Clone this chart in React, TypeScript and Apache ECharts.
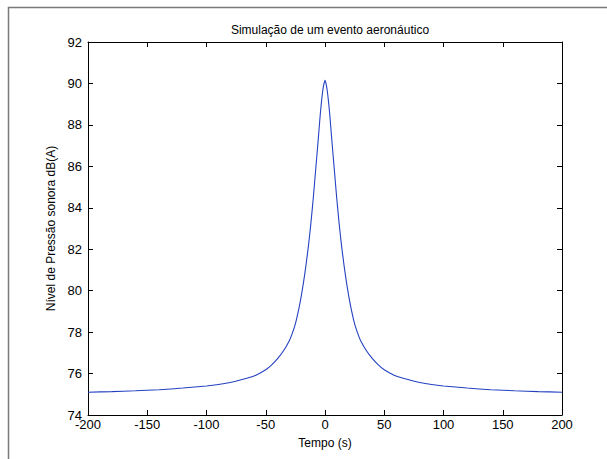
import React, { useEffect, useRef } from "react";
import * as echarts from "echarts";

const titleText = "Simulação de um evento aeronáutico";
const xName = "Tempo (s)";
const yName = "Nível de Pressão sonora dB(A)";

const timeSec = [
  -200, -180, -160, -140, -120, -100, -90, -80, -70, -60, -55, -50, -45, -40, -35, -30, -28, -25, -22, -20, -18, -16,
  -14, -12, -10, -8, -6, -5, -4, -3, -2, -1, 0, 1, 2, 3, 4, 5, 6, 8, 10, 12, 14, 16, 18, 20, 22, 25, 28, 30, 35, 40,
  45, 50, 55, 60, 70, 80, 90, 100, 120, 140, 160, 180, 200,
];
const levelDb = [
  75.1, 75.13, 75.17, 75.22, 75.3, 75.4, 75.47, 75.57, 75.71, 75.88, 76.02, 76.18, 76.42, 76.72, 77.1, 77.6, 77.88,
  78.4, 79.15, 79.75, 80.45, 81.25, 82.15, 83.2, 84.4, 85.75, 87.1, 87.8, 88.5, 89.1, 89.6, 89.95, 90.15, 89.95, 89.6,
  89.1, 88.5, 87.8, 87.1, 85.75, 84.4, 83.2, 82.15, 81.25, 80.45, 79.75, 79.15, 78.4, 77.88, 77.6, 77.1, 76.72, 76.42,
  76.18, 76.02, 75.88, 75.71, 75.57, 75.47, 75.4, 75.3, 75.22, 75.17, 75.13, 75.1,
];

const xMin = -200;
const xMax = 200;
const xStep = 50;
const yMin = 74;
const yMax = 92;
const yStep = 2;

export default function App() {
  const ref = useRef<HTMLDivElement>(null);
  useEffect(() => {
    if (!ref.current) return;
    const chart = echarts.init(ref.current, null, { renderer: "svg" });
    const font = "'Liberation Sans', Arial, sans-serif";
    const axisLine = { show: true, onZero: false, lineStyle: { color: "#000", width: 1 } };
    const tick = { show: true, inside: true, length: 5, lineStyle: { color: "#000" } };
    const data = timeSec.map((t, i) => [t, levelDb[i]]);
    chart.setOption({
      animation: false,
      backgroundColor: "#fff",
      title: {
        text: titleText,
        left: 325,
        top: 19,
        textAlign: "center",
        textStyle: { fontFamily: font, fontSize: 12, fontWeight: "normal", color: "#000" },
      },
      graphic: [
        {
          type: "rect",
          shape: { x: 8.5, y: 7.5, width: 700, height: 600 },
          style: { fill: "none", stroke: "#7a7a7a", lineWidth: 1.5 },
          silent: true,
        },
      ],
      grid: { left: 88, top: 42, right: 45, bottom: 44, containLabel: false },
      xAxis: [
        {
          type: "value",
          min: xMin,
          max: xMax,
          interval: xStep,
          position: "bottom",
          name: xName,
          nameLocation: "middle",
          nameGap: 22,
          nameTextStyle: { fontFamily: font, fontSize: 12, color: "#000" },
          axisLine,
          axisTick: tick,
          splitLine: { show: false },
          axisLabel: { fontFamily: font, fontSize: 13, color: "#000", margin: 3 },
        },
        {
          type: "value",
          min: xMin,
          max: xMax,
          interval: xStep,
          position: "top",
          axisLine,
          axisTick: tick,
          splitLine: { show: false },
          axisLabel: { show: false },
        },
      ],
      yAxis: [
        {
          type: "value",
          min: yMin,
          max: yMax,
          interval: yStep,
          position: "left",
          name: yName,
          nameLocation: "middle",
          nameGap: 25,
          nameTextStyle: { fontFamily: font, fontSize: 12, color: "#000" },
          axisLine,
          axisTick: tick,
          splitLine: { show: false },
          axisLabel: { fontFamily: font, fontSize: 13, color: "#000", margin: 6 },
        },
        {
          type: "value",
          min: yMin,
          max: yMax,
          interval: yStep,
          position: "right",
          axisLine,
          axisTick: tick,
          splitLine: { show: false },
          axisLabel: { show: false },
        },
      ],
      series: [
        {
          type: "line",
          data,
          xAxisIndex: 0,
          yAxisIndex: 0,
          showSymbol: false,
          smooth: 0.2,
          lineStyle: { color: "#2442c0", width: 1.1 },
        },
      ],
    });
    return () => chart.dispose();
  }, []);
  return <div ref={ref} style={{ position: "absolute", left: 0, top: 0, width: 607, height: 459 }} />;
}
